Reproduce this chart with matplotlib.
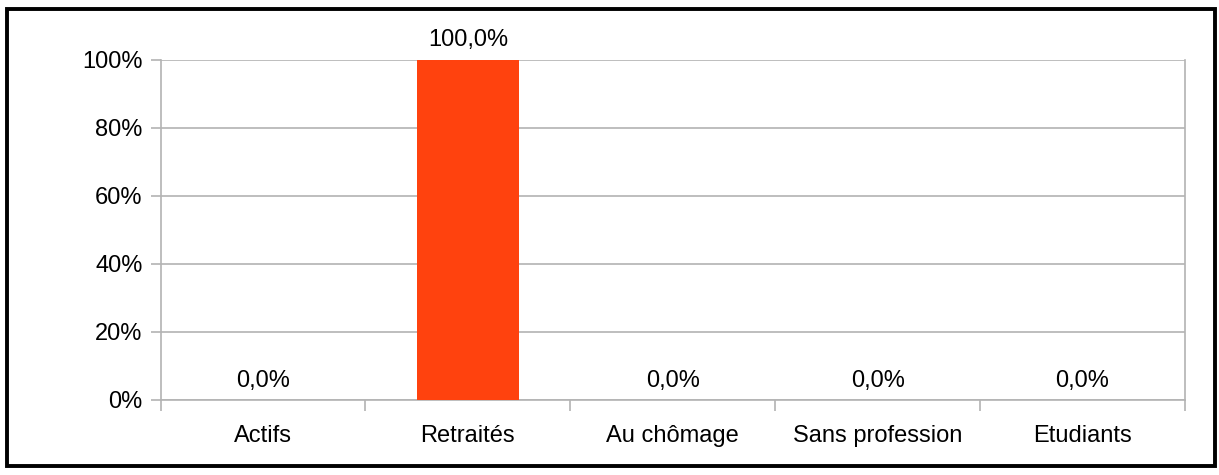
import numpy as np
import matplotlib.pyplot as plt
from matplotlib.patches import Rectangle
from matplotlib.ticker import FixedLocator

# data
categories = ['Actifs', 'Retraités', 'Au chômage', 'Sans profession', 'Etudiants']
values = [0.0, 100.0, 0.0, 0.0, 0.0]
yticks = [0, 20, 40, 60, 80, 100]

plt.rcParams['font.family'] = ['Liberation Sans', 'DejaVu Sans']
grey = '#b3b3b3'
fs = 17

fig = plt.figure(figsize=(12.19, 4.75), dpi=100)
ax = fig.add_axes([160.5/1219, 1-400/475, (1185-160.5)/1219, (400-59.5)/475])

x = np.arange(len(categories))
ax.bar(x, values, width=0.5, color='#ff420e', zorder=3)

for xi, v in zip(x, values):
    ax.annotate(('%.1f%%' % v).replace('.', ','), (xi, v), xytext=(0, 6),
                textcoords='offset points', ha='center', va='bottom',
                fontsize=fs, color='black')

ax.set_xlim(-0.5, len(categories) - 0.5)
ax.set_ylim(0, 100)
ax.set_yticks(yticks)
ax.set_yticklabels(['%d%%' % t for t in yticks])
ax.yaxis.grid(True, color=grey, lw=1.2, zorder=0)

ax.set_xticks(x)
ax.set_xticklabels(categories)
ax.xaxis.set_minor_locator(FixedLocator(np.arange(-0.5, len(categories), 1.0)))
ax.tick_params(axis='x', which='major', length=0, pad=18, labelsize=fs)
ax.tick_params(axis='x', which='minor', length=8, width=1.2, color=grey)
ax.tick_params(axis='y', length=7, width=1.2, color=grey, pad=6, labelsize=fs)

ax.spines['top'].set_visible(False)
for s in ['left', 'right', 'bottom']:
    ax.spines[s].set_color(grey)
    ax.spines[s].set_linewidth(1.2)
ax.spines['left'].set_bounds(0, 100)

# outer frame
fig.patches.append(Rectangle((7/1219, 1-466/475), (1215-7)/1219, (466-9)/475,
                             transform=fig.transFigure, fill=False,
                             edgecolor='black', lw=2.8))

fig.savefig('out.png', dpi=100)
